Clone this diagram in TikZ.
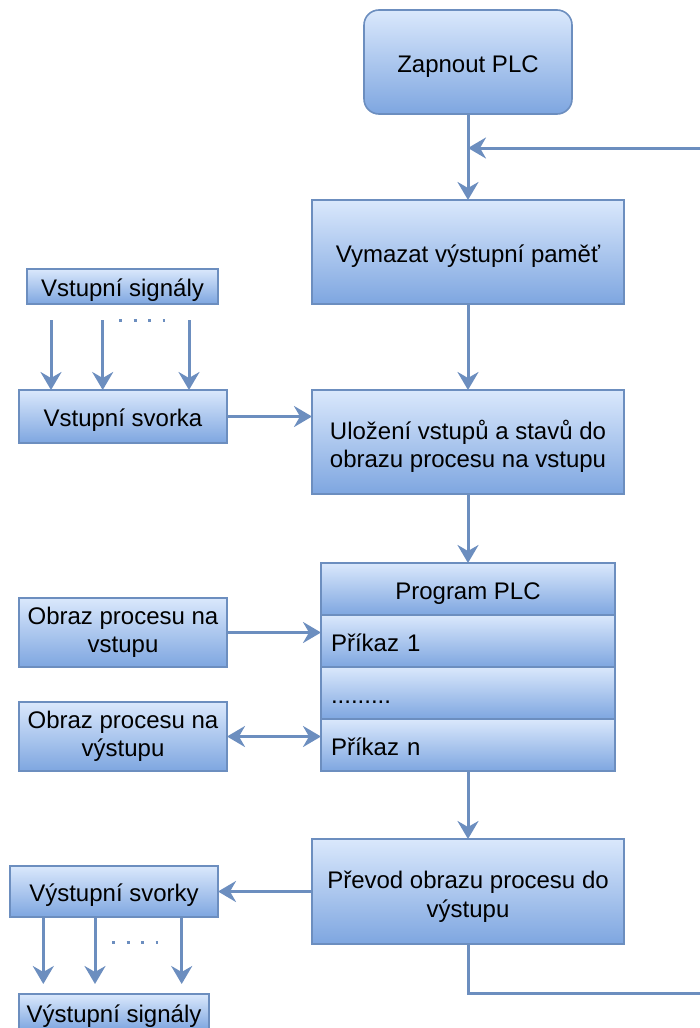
\documentclass[tikz,border=0pt]{standalone}
\usepackage{fontspec}
\setmainfont{Liberation Sans}
\usepackage{tikz}
\usetikzlibrary{calc}
\usetikzlibrary{positioning,shapes}
\usetikzlibrary{arrows.meta}
\definecolor{plcfill}{HTML}{DAE8FC}
\definecolor{plcgrad}{HTML}{7EA6E0}
\definecolor{plcline}{HTML}{6C8EBF}
% výška prvního řádku u dvouřádkových bloků
\newcommand{\plclift}{\rule{0pt}{14.5pt}}
\tikzset{
    plcbox/.style={
        rectangle,
        draw=plcline,
        line width=0.8pt,
        top color=plcfill,
        bottom color=plcgrad,
        inner sep=0pt,
        outer sep=0pt,
        align=center,
        font=\fontsize{12}{14.2}\selectfont,
        execute at begin node={\rule[-3pt]{0pt}{16.3pt}}
    },
    % velký blok se dvěma řádky
    plctall/.style={
        plcbox,
        minimum width=156pt,
        minimum height=52pt
    },
    % 表格里的一行，文字靠左
    plcrow/.style={
        plcbox,
        minimum height=26pt,
        text width=137pt,
        inner xsep=5pt,
        align=left
    },
    plcarrow/.style={
        line width=1.5pt,
        plcline,
        ->,
        >={Stealth[length=9pt, width=10.5pt, inset=3pt]}
    },
    plcdots/.style={
        line width=1.5pt,
        plcline,
        dash pattern=on 1.5pt off 5.7pt
    }
}

\begin{document}
\begin{tikzpicture}[x=0.5pt,y=-0.5pt]
\useasboundingbox (0,0) rectangle (700,1028);

% ===================== 主流程 =====================
\node[plcbox, rounded corners=7.5pt, minimum width=104pt, minimum height=52pt] (start) at (468,62) {Zapnout PLC};
\node[plcbox, minimum width=156pt, minimum height=52pt] (clear) at (468,252) {Vymazat výstupní paměť};
\node[plctall] (store) at (468,442) {\plclift Uložení vstupů a stavů do\\obrazu procesu na vstupu};

% tabulka programu
\node[plcbox, minimum width=147pt, minimum height=26pt] (prog) at (468,589) {Program PLC};
\node[plcrow] (cmdone) at (468,641) {Příkaz 1};
\node[plcrow] (cmddots) at (468,693) {.........};
\node[plcrow] (cmdn) at (468,745) {Příkaz n};

\node[plctall, minimum height=52.5pt] (convert) at (468,891.5) {\plclift Převod obrazu procesu do\\výstupu};

% ===================== 左侧 =====================
\node[plcbox, minimum width=95.5pt, minimum height=17.5pt] (insig) at (122.5,286.5) {Vstupní signály};
\node[plcbox, minimum width=104pt, minimum height=26.5pt] (interm) at (123,416.5) {Vstupní svorka};
\node[plcbox, minimum width=104pt, minimum height=34.5pt] (inimg) at (123,632.5) {Obraz procesu na\\vstupu};
\node[plcbox, minimum width=104pt, minimum height=34.5pt] (outimg) at (123,736.5) {Obraz procesu na\\výstupu};
\node[plcbox, minimum width=104pt, minimum height=25.5pt] (outterm) at (114,891.5) {Výstupní svorky};
\node[plcbox, minimum width=95pt, minimum height=18pt] (outsig) at (114,1012) {Výstupní signály};

\path
    (468,148) coordinate (fbin)
    (704,148) coordinate (fbtop)
    (704,993) coordinate (fbbot)
    (51,320) coordinate (ina)
    (102.7,320) coordinate (inb)
    (189,320) coordinate (inc)
    (43.3,984) coordinate (outa)
    (95,984) coordinate (outb)
    (181.7,984) coordinate (outc)
    ;

% ===================== 箭头 =====================
\draw[plcarrow] (start) -- (clear);
\draw[plcarrow] (clear) -- (store);
\draw[plcarrow] (store) -- (prog);
\draw[plcarrow] (cmdn) -- (convert);
% zpětná smyčka
\draw[plcarrow] (convert.south) |- (fbbot) -- (fbtop) -- (fbin);

%vstupy
\draw[plcarrow] (ina) -- (ina |- interm.north);
\draw[plcarrow] (inb) -- (inb |- interm.north);
\draw[plcarrow] (inc) -- (inc |- interm.north);
\draw[plcdots] (119.3,320) -- (165,320);
\draw[plcarrow] (interm.east) -- (interm.east -| store.west);

\draw[plcarrow] (inimg.east) -- (inimg.east -| cmdone.west);
\draw[plcarrow,<->] (outimg.east) -- (outimg.east -| cmdn.west);

%výstupy
\draw[plcarrow] (convert.west) -- (outterm.east);
\draw[plcarrow] (outterm.south -| outa) -- (outa);
\draw[plcarrow] (outterm.south -| outb) -- (outb);
\draw[plcarrow] (outterm.south -| outc) -- (outc);
\draw[plcdots] (112.3,942) -- (158,942);
\end{tikzpicture}
\end{document}
